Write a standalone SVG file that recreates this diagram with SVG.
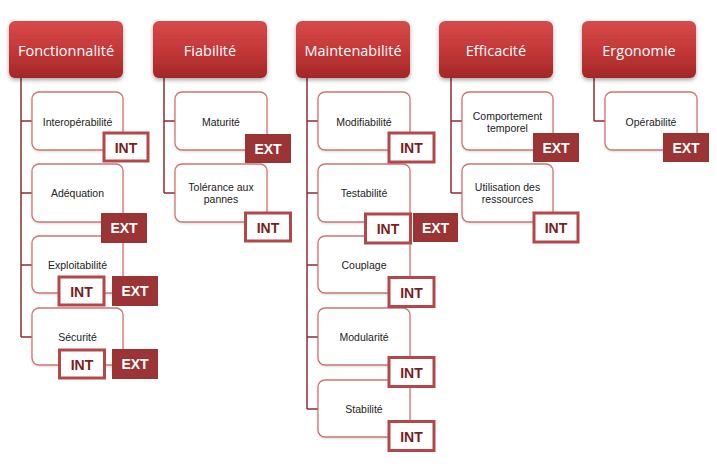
<svg xmlns="http://www.w3.org/2000/svg" width="717" height="476" viewBox="0 0 717 476">
<defs>
<linearGradient id="hg" x1="0" y1="0" x2="0" y2="1">
<stop offset="0" stop-color="#d64a4a"/>
<stop offset="0.5" stop-color="#c43838"/>
<stop offset="1" stop-color="#a32727"/>
</linearGradient>
<filter id="sh" x="-20%" y="-20%" width="140%" height="150%">
<feDropShadow dx="0" dy="2" stdDeviation="2" flood-color="#000" flood-opacity="0.35"/>
</filter>
<filter id="sh2" x="-10%" y="-10%" width="120%" height="130%">
<feDropShadow dx="0" dy="1" stdDeviation="1" flood-color="#000" flood-opacity="0.15"/>
</filter>
</defs>
<style>
.hdr rect{fill:url(#hg);filter:url(#sh)}
.hdr text{fill:#fff;font-family:"Open Sans","Liberation Sans",Arial,sans-serif;font-size:14.5px;text-anchor:middle}
.child{fill:#fff;stroke:#cf7474;stroke-width:1.3;filter:url(#sh2)}
.lbl{fill:#222;font-family:"Liberation Sans",Arial,sans-serif;font-size:10.5px;text-anchor:middle}
.int rect{fill:#fff;stroke:#b4474a;stroke-width:3}
.int text{fill:#7a1e20;font-family:"Liberation Sans",Arial,sans-serif;font-size:14px;font-weight:bold;text-anchor:middle}
.ext rect{fill:#9b3535}
.ext text{fill:#fff;font-family:"Liberation Sans",Arial,sans-serif;font-size:14px;font-weight:bold;text-anchor:middle}
#connectors path{fill:none;stroke:#8b3030;stroke-width:1.5}
</style>
<rect width="717" height="476" fill="#fff"/>

<g id="connectors">
<path d="M21 78V337M21 121H32M21 193H32M21 265H32M21 337H32"/>
<path d="M164 78V193M164 121H175M164 193H175"/>
<path d="M307 78V409M307 121H318M307 193H318M307 265H318M307 337H318M307 409H318"/>
<path d="M451 78V193M451 121H462M451 193H462"/>
<path d="M594 78V121M594 121H605"/>
</g>

<g id="h-fonctionnalite" class="hdr"><rect x="9" y="21" width="114" height="57" rx="6"/><text x="66" y="55.5">Fonctionnalité</text></g>
<g id="h-fiabilite" class="hdr"><rect x="153" y="21" width="114" height="57" rx="6"/><text x="210" y="55.5">Fiabilité</text></g>
<g id="h-maintenabilite" class="hdr"><rect x="296" y="21" width="114" height="57" rx="6"/><text x="353" y="55.5">Maintenabilité</text></g>
<g id="h-efficacite" class="hdr"><rect x="439" y="21" width="114" height="57" rx="6"/><text x="496" y="55.5">Efficacité</text></g>
<g id="h-ergonomie" class="hdr"><rect x="582" y="21" width="114" height="57" rx="6"/><text x="639" y="55.5">Ergonomie</text></g>

<!-- Fonctionnalité children (drawn bottom-up so badges overlap the next box) -->
<g id="c-securite">
<rect class="child" x="32" y="308" width="91" height="57" rx="7"/>
<text class="lbl" x="77.5" y="341">Sécurité</text>
<g class="int"><rect x="59.5" y="350" width="45" height="28"/><text x="82" y="369.5">INT</text></g>
<g class="ext"><rect x="112" y="349" width="46" height="30"/><text x="135" y="369">EXT</text></g>
</g>
<g id="c-exploit">
<rect class="child" x="32" y="236" width="91" height="57" rx="7"/>
<text class="lbl" x="77.5" y="269">Exploitabilité</text>
<g class="int"><rect x="59" y="277" width="45" height="28"/><text x="81.5" y="296.5">INT</text></g>
<g class="ext"><rect x="112" y="276" width="46" height="30"/><text x="135" y="296">EXT</text></g>
</g>
<g id="c-adequation">
<rect class="child" x="32" y="164" width="91" height="58" rx="7"/>
<text class="lbl" x="77.5" y="197">Adéquation</text>
<g class="ext"><rect x="101" y="213" width="46" height="30"/><text x="124" y="233">EXT</text></g>
</g>
<g id="c-interop">
<rect class="child" x="32" y="92" width="91" height="58" rx="7"/>
<text class="lbl" x="77.5" y="126">Interopérabilité</text>
<g class="int"><rect x="104" y="133" width="44" height="28"/><text x="126" y="152.5">INT</text></g>
</g>

<!-- Fiabilité children -->
<g id="c-tolerance">
<rect class="child" x="175" y="164" width="92" height="58" rx="7"/>
<text class="lbl" x="221" y="191">Tolérance aux</text>
<text class="lbl" x="221" y="203">pannes</text>
<g class="int"><rect x="245.5" y="213" width="45" height="28"/><text x="268" y="232.5">INT</text></g>
</g>
<g id="c-maturite">
<rect class="child" x="175" y="92" width="92" height="58" rx="7"/>
<text class="lbl" x="221" y="126">Maturité</text>
<g class="ext"><rect x="245" y="134" width="46" height="29"/><text x="268" y="154">EXT</text></g>
</g>

<!-- Maintenabilité children -->
<g id="c-stabilite">
<rect class="child" x="318" y="380" width="92" height="57" rx="7"/>
<text class="lbl" x="364" y="413">Stabilité</text>
<g class="int"><rect x="389" y="421.5" width="45" height="29"/><text x="411.5" y="441.5">INT</text></g>
</g>
<g id="c-modul">
<rect class="child" x="318" y="308" width="92" height="57" rx="7"/>
<text class="lbl" x="364" y="341">Modularité</text>
<g class="int"><rect x="389" y="357.5" width="45" height="29"/><text x="411.5" y="377.5">INT</text></g>
</g>
<g id="c-couplage">
<rect class="child" x="318" y="236" width="92" height="57" rx="7"/>
<text class="lbl" x="364" y="269">Couplage</text>
<g class="int"><rect x="389" y="277.5" width="45" height="29"/><text x="411.5" y="297.5">INT</text></g>
</g>
<g id="c-testab">
<rect class="child" x="318" y="164" width="92" height="58" rx="7"/>
<text class="lbl" x="364" y="197">Testabilité</text>
<g class="int"><rect x="365.5" y="214" width="45" height="29"/><text x="388" y="234">INT</text></g>
<g class="ext"><rect x="413" y="213" width="45" height="29"/><text x="435.5" y="233">EXT</text></g>
</g>
<g id="c-modif">
<rect class="child" x="318" y="92" width="92" height="58" rx="7"/>
<text class="lbl" x="364" y="126">Modifiabilité</text>
<g class="int"><rect x="389" y="133" width="45" height="29"/><text x="411.5" y="153">INT</text></g>
</g>

<!-- Efficacité children -->
<g id="c-utilisation">
<rect class="child" x="462" y="164" width="91" height="58" rx="7"/>
<text class="lbl" x="507.5" y="191">Utilisation des</text>
<text class="lbl" x="507.5" y="203">ressources</text>
<g class="int"><rect x="534" y="213" width="44" height="29"/><text x="556" y="233">INT</text></g>
</g>
<g id="c-comport">
<rect class="child" x="462" y="92" width="91" height="58" rx="7"/>
<text class="lbl" x="507.5" y="120">Comportement</text>
<text class="lbl" x="507.5" y="132">temporel</text>
<g class="ext"><rect x="533" y="133" width="46" height="29"/><text x="556" y="153">EXT</text></g>
</g>

<!-- Ergonomie children -->
<g id="c-operab">
<rect class="child" x="605" y="92" width="92" height="58" rx="7"/>
<text class="lbl" x="651" y="126">Opérabilité</text>
<g class="ext"><rect x="663" y="133" width="46" height="29"/><text x="686" y="153">EXT</text></g>
</g>
</svg>
